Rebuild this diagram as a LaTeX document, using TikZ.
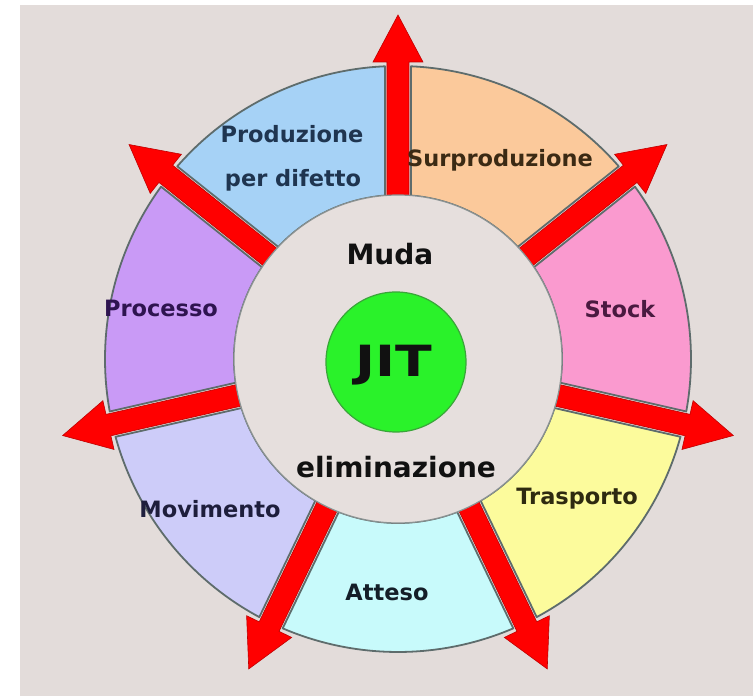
\documentclass[tikz,border=0pt]{standalone}
\usepackage{fontspec}
\usepackage{graphicx}
\setmainfont{DejaVu Sans}
\definecolor{bgc}{HTML}{E3DCDA}
\definecolor{innerc}{HTML}{E6DFDD}
\definecolor{innerline}{HTML}{8A9292}
\definecolor{secline}{HTML}{5E6C6C}
\definecolor{cProd}{HTML}{A6D2F6}
\definecolor{cSurp}{HTML}{FBC99B}
\definecolor{cStock}{HTML}{FA9ACF}
\definecolor{cTras}{HTML}{FCFB9C}
\definecolor{cAtt}{HTML}{C8FAFB}
\definecolor{cMov}{HTML}{CDCCF9}
\definecolor{cProc}{HTML}{C99AF6}
\definecolor{cGreen}{HTML}{2AF22A}
\definecolor{cGreenLine}{HTML}{3AA53A}
\definecolor{arrowred}{HTML}{FF0000}
\definecolor{tProd}{HTML}{1F3550}
\definecolor{tSurp}{HTML}{3B2A14}
\definecolor{tStock}{HTML}{4A1A40}
\definecolor{tProc}{HTML}{2E1450}
\definecolor{tMov}{HTML}{1E1E3C}
\definecolor{tTras}{HTML}{2E2A10}
\definecolor{tAtt}{HTML}{141E28}
\definecolor{tMain}{HTML}{111111}
\tikzset{
  sector/.style={draw=secline, line width=1.8pt, line join=round},
  redarrow/.style={fill=arrowred, draw=red!75!black, line width=0.6pt, line join=miter},
  lbl/.style={anchor=base, inner sep=0pt, font=\fontsize{22.5}{27}\selectfont\bfseries},
  bigtxt/.style={anchor=base, inner sep=0pt, text=tMain, font=\fontsize{28}{32}\selectfont\bfseries},
}
\newcommand{\mysector}[3]{% start angle, end angle, colour
  \pgfmathsetmacro{\aOa}{#1-2.54}\pgfmathsetmacro{\aOb}{#2+2.54}%
  \pgfmathsetmacro{\aIa}{#1-4.55}\pgfmathsetmacro{\aIb}{#2+4.55}%
  \draw[sector, fill=#3] (\aOa:293) arc[start angle=\aOa, end angle=\aOb, radius=293]
     -- (\aIb:164) arc[start angle=\aIb, end angle=\aIa, radius=164] -- cycle;}
\newcommand{\myarrow}[1]{%
  \begin{scope}[rotate=#1]
    \draw[redarrow] (158,-11) -- (297,-11) -- (297,-25) -- (344,0) -- (297,25) -- (297,11) -- (158,11) -- cycle;
  \end{scope}}
\begin{document}
\begin{tikzpicture}[x=1pt,y=1pt]
  \useasboundingbox (-398,-337) rectangle (355,359);
  \fill[white] (-398,-337) rectangle (355,359);
  \fill[bgc] (-378,-337) rectangle (355,354);
  % sectors
  \pgfmathsetmacro{\st}{360/7}
  \mysector{90}{90-\st}{cSurp}
  \mysector{90-\st}{90-2*\st}{cStock}
  \mysector{90-2*\st}{90-3*\st}{cTras}
  \mysector{90-3*\st}{90-4*\st}{cAtt}
  \mysector{90-4*\st}{90-5*\st}{cMov}
  \mysector{90-5*\st}{90-6*\st}{cProc}
  \mysector{90-6*\st}{90-7*\st}{cProd}
  % arrows
  \foreach \k in {0,...,6}{\pgfmathsetmacro{\ang}{90-\k*360/7}\myarrow{\ang}}
  % inner circle
  \draw[fill=innerc, draw=innerline, line width=1.2pt] (0,0) circle[radius=164];
  \node[circle, fill=cGreen, draw=cGreenLine, line width=1.2pt, minimum size=140pt, inner sep=0pt] (jitc) at (-2,-3) {};
  % texts
  \node[anchor=base, inner sep=0pt, text=tMain, font=\fontsize{43}{46}\selectfont\bfseries] (jit) at (-4,-18) {\scalebox{1.25}[1]{JIT}};
  \node[bigtxt] (muda) at (-8,94) {Muda};
  \node[bigtxt] (elim) at (-2,-119) {eliminazione};
  \node[lbl, text=tProd] (prod1) at (-106,216) {Produzione};
  \node[lbl, text=tProd] (prod2) at (-105,172) {per difetto};
  \node[lbl, text=tSurp] (surp) at (102,192) {Surproduzione};
  \node[lbl, text=tStock] (stock) at (222,41) {Stock};
  \node[lbl, text=tProc] (proc) at (-237,42) {Processo};
  \node[lbl, text=tMov] (mov) at (-188,-158) {Movimento};
  \node[lbl, text=tTras] (tras) at (179,-146) {Trasporto};
  \node[lbl, text=tAtt] (att) at (-11,-241) {Atteso};
\end{tikzpicture}
\end{document}
